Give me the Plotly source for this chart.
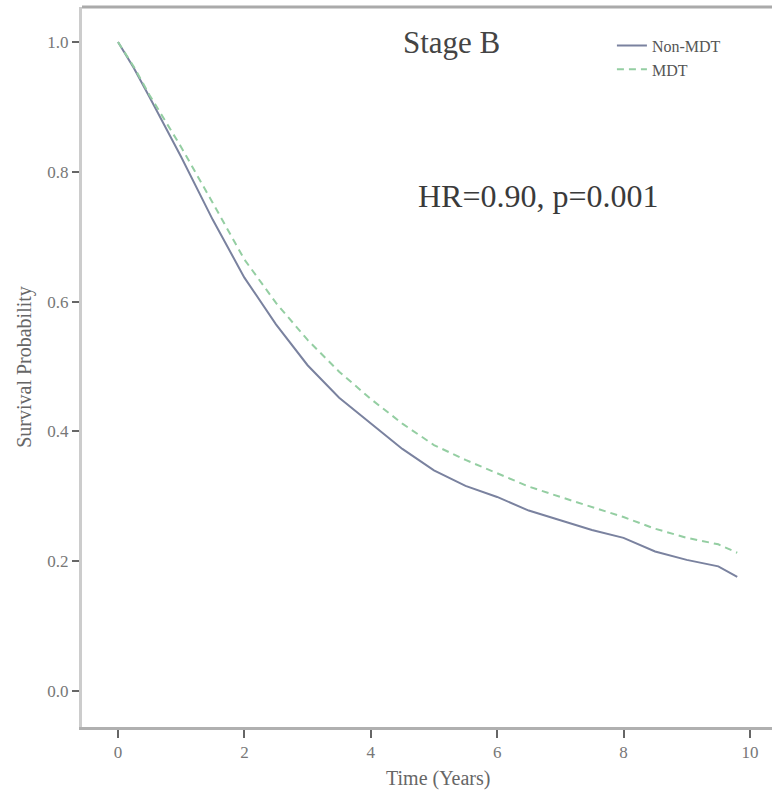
import plotly.graph_objects as go

# survival curves (years, probability)
time_years = [0, 0.25, 0.5, 0.75, 1.0, 1.5, 2.0, 2.5, 3.0, 3.5, 4.0, 4.5,
              5.0, 5.5, 6.0, 6.5, 7.0, 7.5, 8.0, 8.5, 9.0, 9.5, 9.8]
non_mdt = [1.0, 0.96, 0.915, 0.868, 0.823, 0.726, 0.637, 0.565, 0.502, 0.452,
           0.413, 0.373, 0.340, 0.316, 0.299, 0.278, 0.263, 0.248, 0.236,
           0.215, 0.202, 0.192, 0.176]
mdt = [1.0, 0.962, 0.918, 0.878, 0.838, 0.752, 0.665, 0.598, 0.541, 0.492,
       0.450, 0.412, 0.379, 0.356, 0.335, 0.315, 0.299, 0.283, 0.268,
       0.250, 0.236, 0.226, 0.213]

x_ticks = [0, 2, 4, 6, 8, 10]
y_ticks = [0.0, 0.2, 0.4, 0.6, 0.8, 1.0]

SERIF = "Liberation Serif, Times New Roman, serif"

fig = go.Figure()

fig.add_trace(go.Scatter(
    x=time_years, y=non_mdt, mode='lines', name='Non-MDT',
    line=dict(color='#7a829f', width=2)
))
fig.add_trace(go.Scatter(
    x=time_years, y=mdt, mode='lines', name='MDT',
    line=dict(color='#94cea2', width=2, dash='7px,5px')
))

fig.add_annotation(text="Stage B", x=0.536, y=0.951, xref='paper', yref='paper',
                   xanchor='center', yanchor='middle', showarrow=False,
                   font=dict(family=SERIF, size=31, color='#444444'))
fig.add_annotation(text="HR=0.90, p=0.001", x=0.662, y=0.7375, xref='paper', yref='paper',
                   xanchor='center', yanchor='middle', showarrow=False,
                   font=dict(family=SERIF, size=32, color='#3a3a3a'))
# x axis title, sits a little right of the plot centre in the reference
fig.add_annotation(text="Time (Years)", x=0.516, y=-0.071, xref='paper', yref='paper',
                   xanchor='center', yanchor='middle', showarrow=False,
                   font=dict(family=SERIF, size=20, color='#666666'))

# top frame line (no right edge in the reference)
fig.add_shape(type='line', xref='paper', yref='paper', x0=0, x1=1, y0=1, y1=1,
              line=dict(color='#aaaaaa', width=3))

fig.update_layout(
    width=772,
    height=795,
    margin=dict(l=82, r=0, t=7, b=68),
    plot_bgcolor='white',
    paper_bgcolor='white',
    font=dict(family=SERIF, color='#555555'),
    xaxis=dict(
        range=[-0.57, 10.35],
        tickvals=x_ticks,
        ticks='outside', ticklen=8, tickwidth=2, tickcolor='#666666',
        tickfont=dict(size=17, color='#777777'),
        showgrid=False, zeroline=False,
        showline=True, linecolor='#b0b0b0', linewidth=3,
    ),
    yaxis=dict(
        range=[-0.0555, 1.054],
        tickvals=y_ticks,
        tickformat='.1f',
        ticks='outside', ticklen=7, tickwidth=2, tickcolor='#666666',
        tickfont=dict(size=17, color='#777777'),
        showgrid=False, zeroline=False,
        showline=True, linecolor='#cccccc', linewidth=3,
        title=dict(text='Survival Probability', font=dict(size=20, color='#666666'), standoff=11),
    ),
    legend=dict(
        x=0.768, y=0.97, xanchor='left', yanchor='top',
        bgcolor='rgba(0,0,0,0)',
        font=dict(family=SERIF, size=16, color='#555555'),
        tracegroupgap=0,
    ),
)

fig.write_html("out.html", config={'displayModeBar': False},
               post_script="document.body.style.margin='0';document.body.style.overflow='hidden';"
                           "document.documentElement.style.overflow='hidden';"
                           "document.body.style.background='white';")
